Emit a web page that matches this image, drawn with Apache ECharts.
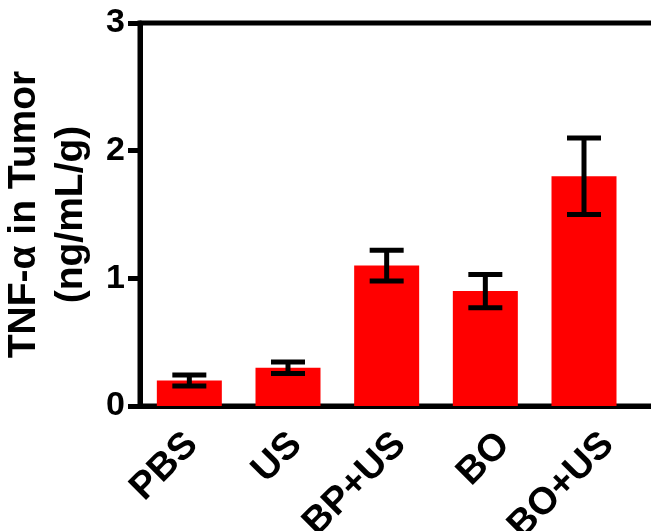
<!DOCTYPE html>
<html>
<head>
<meta charset="utf-8">
<script src="https://cdn.jsdelivr.net/npm/echarts@6/dist/echarts.min.js"></script>
<style>
  html, body { margin: 0; padding: 0; background: #fff; }
  #chart { width: 651px; height: 531px; }
</style>
</head>
<body>
<div id="chart"></div>
<script>
// 数据
const categories = ['PBS', 'US', 'BP+US', 'BO', 'BO+US']
const means = [0.2, 0.3, 1.1, 0.9, 1.8]
const errors = [0.043, 0.045, 0.12, 0.13, 0.3]
const yTicks = [0, 1, 2, 3]

const font = "'Liberation Sans', Arial, sans-serif"

let myChart = echarts.init(document.getElementById('chart'))

// 右边多留一个空类目，让坐标轴伸出画面
let xData = categories.concat([''])
let errData = categories.map((c, i) => [i, means[i], errors[i]])

let labelStyle = {
    color: '#000',
    fontWeight: 'bold',
    fontFamily: font
}

let option = {
    animation: false,
    grid: [{
        left: 140,
        top: 23,
        bottom: 125,
        right: -81,
        containLabel: false,
        outerBoundsMode: 'none',
        show: true,
        borderColor: '#000',
        borderWidth: 5
    }, {
        // 只放类目文字，间距比柱子稍宽
        left: 140,
        top: 23,
        bottom: 125,
        right: -9,
        containLabel: false,
        outerBoundsMode: 'none'
    }],
    xAxis: [{
        type: 'category',
        gridIndex: 0,
        data: xData,
        axisLine: { lineStyle: { color: '#000', width: 5 } },
        axisTick: { alignWithLabel: true, length: 12, lineStyle: { color: '#000', width: 5 } },
        axisLabel: { show: false },
        splitLine: { show: false }
    }, {
        type: 'category',
        gridIndex: 1,
        data: categories,
        axisLine: { show: false },
        axisTick: { show: false },
        axisLabel: Object.assign({
            rotate: 45,
            margin: 33,
            interval: 0,
            fontSize: 38
        }, labelStyle),
        splitLine: { show: false }
    }],
    yAxis: [{
        type: 'value',
        gridIndex: 0,
        min: yTicks[0],
        max: yTicks[yTicks.length - 1],
        interval: 1,
        name: 'TNF-α in Tumor\n(ng/mL/g)',
        nameLocation: 'middle',
        nameGap: 35,
        nameTextStyle: Object.assign({ fontSize: 39, lineHeight: 47 }, labelStyle),
        axisLine: { show: true, lineStyle: { color: '#000', width: 5 } },
        axisTick: { show: true, length: 12, lineStyle: { color: '#000', width: 5 } },
        axisLabel: Object.assign({ margin: 15, fontSize: 34 }, labelStyle),
        splitLine: { show: false }
    }, {
        type: 'value',
        gridIndex: 1,
        min: 0,
        max: 3,
        show: false
    }],
    series: [{
        type: 'bar',
        data: means,
        barWidth: 65,
        itemStyle: { color: '#ff0000' }
    }, {
        type: 'custom',
        data: errData,
        z: 5,
        renderItem: (params, api) => {
            let x = api.value(0)
            let m = api.value(1)
            let e = api.value(2)
            let top = api.coord([x, m + e])
            let bot = api.coord([x, m - e])
            let hw = 17
            let style = { stroke: '#000', lineWidth: 5 }
            return {
                type: 'group',
                children: [
                    { type: 'line', shape: { x1: top[0], y1: top[1], x2: bot[0], y2: bot[1] }, style: style },
                    { type: 'line', shape: { x1: top[0] - hw, y1: top[1], x2: top[0] + hw, y2: top[1] }, style: style },
                    { type: 'line', shape: { x1: bot[0] - hw, y1: bot[1], x2: bot[0] + hw, y2: bot[1] }, style: style }
                ]
            }
        }
    }]
}
myChart.setOption(option)
</script>
</body>
</html>
